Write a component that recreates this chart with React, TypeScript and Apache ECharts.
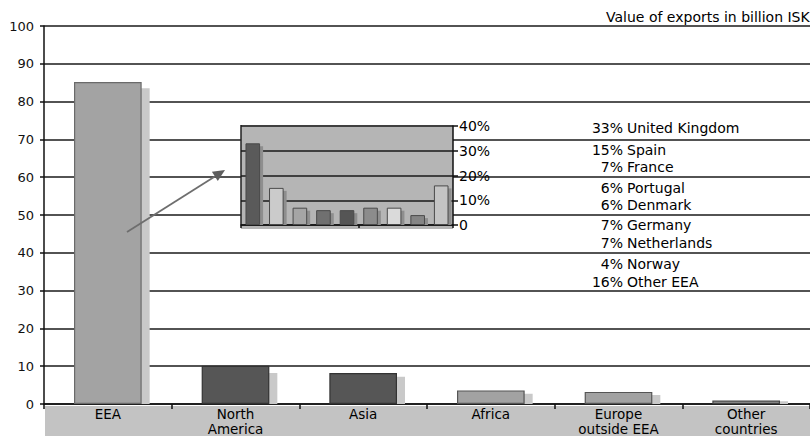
import React, { useEffect, useRef } from "react";
import * as echarts from "echarts";

const categories = ["EEA", "North\nAmerica", "Asia", "Africa", "Europe\noutside EEA", "Other\ncountries"];
const exportValues = [85.2, 10.1, 8.2, 3.6, 3.2, 0.9];
const shadowValues = [83.5, 8.2, 7.2, 2.7, 2.4, 0.7];
const barColors = ["#a3a3a3", "#565656", "#565656", "#a2a2a2", "#a2a2a2", "#9a9a9a"];
const barBorders = ["#6a6a6a", "#333333", "#333333", "#555555", "#555555", "#444444"];
const yTicks = [0, 10, 20, 30, 40, 50, 60, 70, 80, 90, 100];

const insetCategories = ["United Kingdom", "Spain", "France", "Portugal", "Denmark", "Germany", "Netherlands", "Norway", "Other EEA"];
const insetValues = [33, 15, 7, 6, 6, 7, 7, 4, 16];
const insetColors = ["#5a5a5a", "#cbcbcb", "#a5a5a5", "#707070", "#555555", "#8c8c8c", "#dadada", "#858585", "#c4c4c4"];
const insetTicks = [0, 10, 20, 30, 40];
const listY = [128, 150, 167, 188, 205, 225, 243, 264, 282];

const unitText = "Value of exports in billion ISK";
const FONT = "DejaVu Sans";

export default function App() {
  const ref = useRef<HTMLDivElement>(null);
  useEffect(() => {
    if (!ref.current) return;
    const chart = echarts.init(ref.current, undefined, { renderer: "svg" });

    const tip = [225, 170];
    const start = [127, 232];
    const dx = tip[0] - start[0];
    const dy = tip[1] - start[1];
    const len = Math.sqrt(dx * dx + dy * dy);
    const ux = dx / len, uy = dy / len;
    const hl = 12, hw = 5.5;
    const bx = tip[0] - ux * hl, by = tip[1] - uy * hl;
    const px = -uy * hw, py = ux * hw;

    const listTexts: any[] = [];
    insetCategories.forEach((name, i) => {
      listTexts.push({
        type: "text", z: 10, x: 623, y: listY[i],
        style: { text: insetValues[i] + "%", fill: "#000", font: `14px '${FONT}'`, textAlign: "right", textVerticalAlign: "middle" },
      });
      listTexts.push({
        type: "text", z: 10, x: 627, y: listY[i],
        style: { text: name, fill: "#000", font: `14px '${FONT}'`, textAlign: "left", textVerticalAlign: "middle" },
      });
    });

    chart.setOption({
      animation: false,
      backgroundColor: "#ffffff",
      grid: [
        { left: 44, right: -3, top: 26, bottom: 32, containLabel: false },
        { left: 241, top: 126, width: 212, height: 99, containLabel: false },
      ],
      xAxis: [
        {
          type: "category", gridIndex: 0, data: categories, z: 0,
          axisLine: { show: true, lineStyle: { color: "#111", width: 1.5 } },
          axisTick: { show: true, length: 5, lineStyle: { color: "#111", width: 1.5 } },
          axisLabel: { color: "#000", fontSize: 13.5, fontFamily: FONT, lineHeight: 15, margin: 2, interval: 0 },
          splitLine: { show: false },
        },
        {
          type: "category", gridIndex: 1, data: insetCategories, z: 4,
          axisLine: { show: true, lineStyle: { color: "#111", width: 1.5 } },
          axisTick: { show: true, length: 3, lineStyle: { color: "#111", width: 1.5 } },
          axisLabel: { show: false },
          splitLine: { show: false },
        },
      ],
      yAxis: [
        {
          type: "value", gridIndex: 0, min: yTicks[0], max: yTicks[yTicks.length - 1], interval: 10, z: 0,
          axisLine: { show: true, lineStyle: { color: "#111", width: 1.5 } },
          axisTick: { show: true, length: 4, lineStyle: { color: "#111", width: 1.5 } },
          axisLabel: { color: "#111", fontSize: 13, fontFamily: FONT, margin: 10 },
          splitLine: { show: true, lineStyle: { color: "#1a1a1a", width: 1.5 } },
        },
        {
          type: "value", gridIndex: 1, position: "right", min: insetTicks[0], max: insetTicks[insetTicks.length - 1], interval: 10, z: 4,
          axisLine: { show: true, lineStyle: { color: "#111", width: 1.5 } },
          axisTick: { show: true, length: 5, lineStyle: { color: "#111", width: 1.5 } },
          axisLabel: { color: "#000", fontSize: 14, fontFamily: FONT, margin: 6, formatter: (v: number) => (v === 0 ? "0" : v + "%") },
          splitLine: { show: true, lineStyle: { color: "#1a1a1a", width: 1.5 } },
        },
      ],
      series: [
        {
          type: "custom", xAxisIndex: 0, yAxisIndex: 0, z: 1,
          data: shadowValues.map((v, i) => [i, v]),
          encode: { x: 0, y: 1 },
          renderItem: (params: any, api: any) => {
            const top = api.coord([api.value(0), api.value(1)]);
            const base = api.coord([api.value(0), 0]);
            const w = api.size([1, 0])[0] * 0.53;
            return {
              type: "rect",
              shape: { x: top[0] - w / 2 + 8, y: top[1], width: w, height: base[1] - top[1] },
              style: { fill: "#c9c9c9" },
            };
          },
        },
        {
          type: "bar", xAxisIndex: 0, yAxisIndex: 0, z: 2, barWidth: "53%",
          data: exportValues.map((v, i) => ({
            value: v,
            itemStyle: { color: barColors[i], borderColor: barBorders[i], borderWidth: 1.2 },
          })),
        },
        {
          type: "custom", xAxisIndex: 1, yAxisIndex: 1, z: 5,
          data: insetValues.map((v, i) => [i, v]),
          encode: { x: 0, y: 1 },
          renderItem: (params: any, api: any) => {
            const top = api.coord([api.value(0), api.value(1)]);
            const base = api.coord([api.value(0), 0]);
            const w = api.size([1, 0])[0] * 0.62;
            return {
              type: "rect",
              shape: { x: top[0] - w / 2 + 3, y: top[1] + 3, width: w, height: Math.max(0, base[1] - top[1] - 3) },
              style: { fill: "#8e8e8e" },
            };
          },
        },
        {
          type: "bar", xAxisIndex: 1, yAxisIndex: 1, z: 6, barWidth: "62%",
          data: insetValues.map((v, i) => ({
            value: v,
            itemStyle: { color: insetColors[i], borderColor: "#4a4a4a", borderWidth: 1 },
          })),
        },
      ],
      graphic: [
        { type: "rect", z: -1, shape: { x: 45, y: 406, width: 770, height: 30 }, style: { fill: "#c3c3c3" } },
        { type: "rect", z: 3, shape: { x: 241, y: 125, width: 212, height: 104 }, style: { fill: "#b5b5b5" } },
        { type: "line", z: 4, shape: { x1: 241, y1: 125, x2: 241, y2: 225 }, style: { stroke: "#222", lineWidth: 1.5 } },
        {
          type: "text", z: 10, x: 606, y: 17,
          style: { text: unitText, fill: "#000", font: `14px '${FONT}'`, textAlign: "left", textVerticalAlign: "middle" },
        },
        { type: "line", z: 10, shape: { x1: start[0], y1: start[1], x2: bx, y2: by }, style: { stroke: "#6e6e6e", lineWidth: 1.8 } },
        {
          type: "polygon", z: 10,
          shape: { points: [[tip[0], tip[1]], [bx + px, by + py], [bx - px, by - py]] },
          style: { fill: "#5e5e5e" },
        },
        ...listTexts,
      ],
    });
    return () => chart.dispose();
  }, []);
  return <div ref={ref} style={{ width: 810, height: 436, position: "absolute", left: 0, top: 0 }} />;
}
